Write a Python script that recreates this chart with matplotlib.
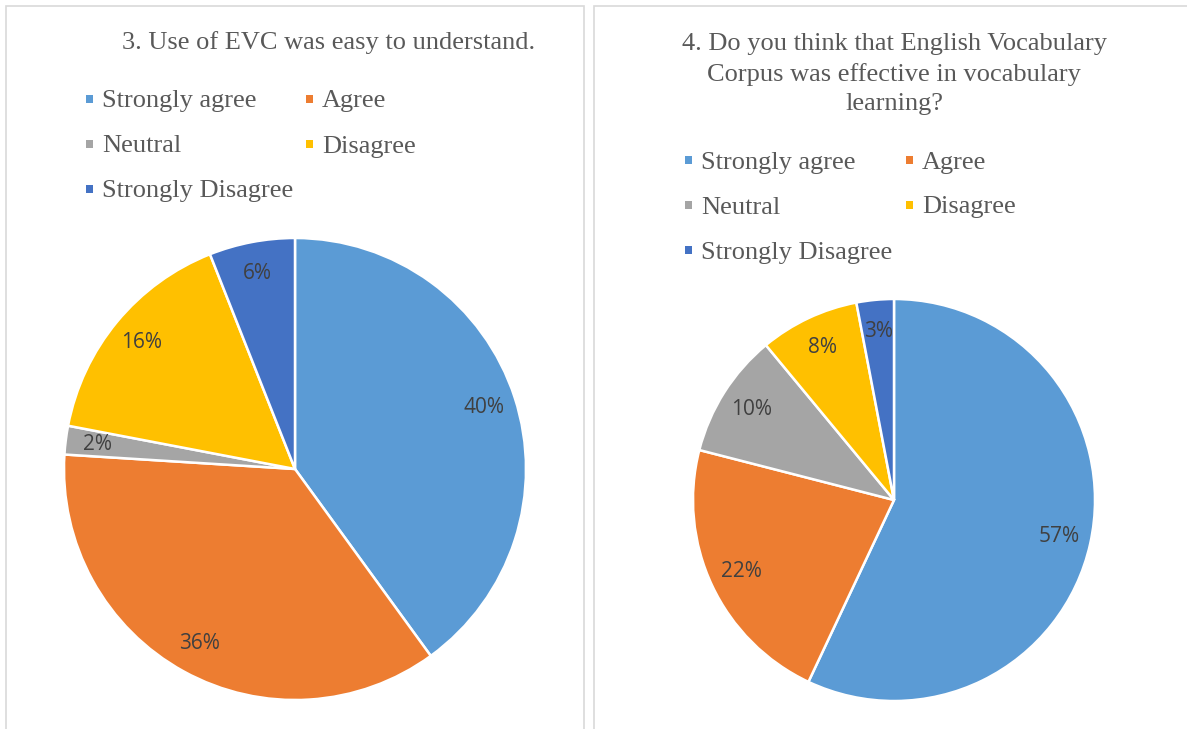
import matplotlib
matplotlib.use("Agg")
import matplotlib.pyplot as plt
from matplotlib.patches import Rectangle

# Survey responses (percent of respondents)
categories = ["Strongly agree", "Agree", "Neutral", "Disagree", "Strongly Disagree"]
q3_values = [40, 36, 2, 16, 6]
q4_values = [57, 22, 10, 8, 3]
q3_title = "3. Use of EVC was easy to understand."
q4_title = ("4. Do you think that English Vocabulary\n"
            "Corpus was effective in vocabulary\nlearning?")

colors = ["#5B9BD5", "#ED7D31", "#A5A5A5", "#FFC000", "#4472C4"]
text_gray = "#595959"
label_gray = "#404040"

W, H = 1187, 729
fig = plt.figure(figsize=(W / 100, H / 100), dpi=100)
fig.patch.set_facecolor("white")


def fx(px):
    return px / W


def fy(py):
    return 1 - py / H


# panel frames
for x0, x1 in [(5.5, 584), (593.5, 1200)]:
    fig.add_artist(Rectangle((fx(x0), fy(740)), fx(x1 - x0), (740 - 5.5) / H,
                             transform=fig.transFigure, fill=False,
                             edgecolor="#D9D9D9", linewidth=1.2))


def draw_pie(values, cx, cy, r, pctdist):
    pad = 1.03
    ax = fig.add_axes([fx(cx - r * pad), fy(cy + r * pad),
                       fx(2 * r * pad), 2 * r * pad / H])
    ax.pie(values, colors=colors, startangle=90, counterclock=False,
           radius=1.0, autopct="%d%%", pctdistance=pctdist,
           wedgeprops=dict(edgecolor="white", linewidth=1.8),
           textprops=dict(color=label_gray, fontsize=15, family="Open Sans"))
    ax.set_xlim(-pad, pad)
    ax.set_ylim(-pad, pad)
    ax.set_aspect("equal")
    ax.axis("off")
    return ax


def draw_legend(x_col1, x_col2, y_rows):
    slots = [(x_col1, y_rows[0]), (x_col2, y_rows[0]),
             (x_col1, y_rows[1]), (x_col2, y_rows[1]),
             (x_col1, y_rows[2])]
    for (x, y), name, c in zip(slots, categories, colors):
        s = 7
        fig.add_artist(Rectangle((fx(x), fy(y + s / 2)), fx(s), s / H,
                                 transform=fig.transFigure, facecolor=c,
                                 edgecolor="none"))
        fig.text(fx(x + 16), fy(y), name, ha="left", va="center_baseline",
                 fontsize=19, family="Liberation Serif", color=text_gray)


# left chart
fig.text(fx(329), fy(40), q3_title, ha="center", va="center_baseline",
         fontsize=19, family="Liberation Serif", color=text_gray)
draw_legend(86, 306, [99, 144, 189])
draw_pie(q3_values, 295, 469, 231, 0.86)

# right chart
fig.text(fx(894), fy(74), q4_title, ha="center", va="center",
         fontsize=19, family="Liberation Serif", color=text_gray,
         linespacing=1.44)
draw_legend(685, 906, [160, 205, 250])
draw_pie(q4_values, 894, 500, 201, 0.84)

fig.savefig("out.png", dpi=100, facecolor="white")
